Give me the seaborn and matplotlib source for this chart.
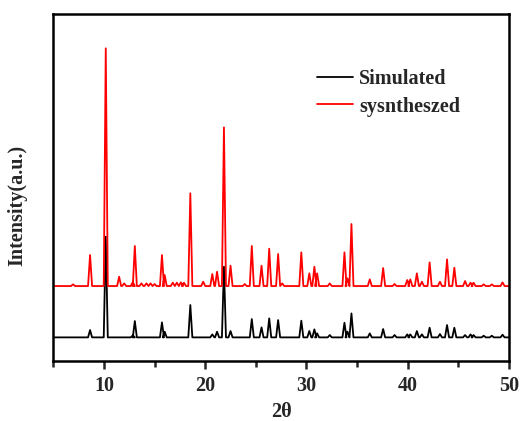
import numpy as np
import pandas as pd
import matplotlib
matplotlib.use("Agg")
import matplotlib.pyplot as plt
import seaborn as sns

# peak positions (2theta) and heights (arbitrary units)
peak_pos = [6.95, 8.63, 10.18, 11.5, 12.0, 12.85, 13.05, 13.7, 14.2, 14.6, 15.0, 15.73, 16.0,
            16.8, 17.2, 17.6, 17.9, 18.53, 19.8, 20.7, 21.17, 21.85, 22.5, 23.9, 24.6, 25.56,
            26.32, 27.2, 27.6, 29.49, 30.28, 30.78, 31.05, 32.3, 33.75, 34.05, 34.44, 36.25,
            37.57, 38.7, 39.95, 40.25, 40.9, 41.4, 42.16, 43.18, 43.88, 44.6, 45.66, 46.2,
            46.5, 47.5, 48.3, 49.36]
simulated = [0, 22, 302, 0, 0, 6, 49, 0, 0, 0, 0, 45, 17,
             0, 0, 0, 0, 97, 0, 9, 17, 212, 19, 0, 55, 30,
             57, 52, 0, 50, 19, 24, 12, 7, 44, 17, 72, 12,
             25, 7, 9, 9, 19, 9, 29, 10, 37, 29, 7, 9,
             7, 5, 5, 8]
synthesized = [5, 93, 713, 28, 8, 12, 120, 8, 8, 8, 6, 93, 33,
               10, 10, 11, 10, 278, 13, 36, 43, 476, 61, 6, 120, 61,
               112, 96, 8, 101, 38, 58, 38, 8, 101, 23, 186, 20,
               54, 6, 18, 20, 38, 13, 71, 13, 80, 55, 15, 10,
               10, 5, 5, 11]
labels = ["Simulated", "sysntheszed"]
offsets = [70, 224]
colors = ["black", "#ff0000"]
x_min, x_max = 5, 50
half_width = 0.2


def profile(heights, base):
    xs, ys = [x_min], [base]
    for p, h in zip(peak_pos, heights):
        xs += [p - half_width, p, p + half_width]
        ys += [base, base + h, base]
    xs.append(x_max)
    ys.append(base)
    return xs, ys


frames = []
for name, heights, base in zip(labels, [simulated, synthesized], offsets):
    xs, ys = profile(heights, base)
    frames.append(pd.DataFrame({"theta": xs, "intensity": ys, "sample": name}))
df = pd.concat(frames, ignore_index=True)

sns.set_theme(style="ticks")
plt.rcParams["font.family"] = ["Liberation Serif", "DejaVu Serif"]
plt.rcParams["font.weight"] = "bold"

fig = plt.figure(figsize=(5.32, 4.21), dpi=100)
ax = fig.add_axes([0.1002, 0.1432, 0.8566, 0.8235])

sns.lineplot(data=df, x="theta", y="intensity", hue="sample", palette=colors,
             estimator=None, sort=False, linewidth=1.3, ax=ax)

ax.set_xlim(x_min, x_max)
ax.set_ylim(0, 1040)
ax.set_xticks([10, 20, 30, 40, 50])
ax.set_xticks([5, 15, 25, 35, 45], minor=True)
ax.set_yticks([])
ax.tick_params(axis="x", which="major", direction="out", length=6, width=1.8,
               labelsize=14.5, pad=5)
ax.tick_params(axis="x", which="minor", direction="out", length=4, width=1.8)
for lab in ax.get_xticklabels():
    lab.set_fontweight("bold")
for s in ax.spines.values():
    s.set_linewidth(1.8)
    s.set_color("black")

ax.set_xlabel("2θ", fontsize=14.5, fontweight="bold", labelpad=4)
ax.set_ylabel("Intensity(a.u.)", fontsize=14.5, fontweight="bold")
ax.yaxis.set_label_coords(-0.058, 0.449)

leg = ax.legend(loc="upper left", bbox_to_anchor=(0.578, 0.84), frameon=False,
                borderpad=0, borderaxespad=0, handlelength=1.8, handletextpad=0.3,
                labelspacing=0.35, prop={"size": 14.5, "weight": "bold"})

fig.savefig("out.png", dpi=100)
